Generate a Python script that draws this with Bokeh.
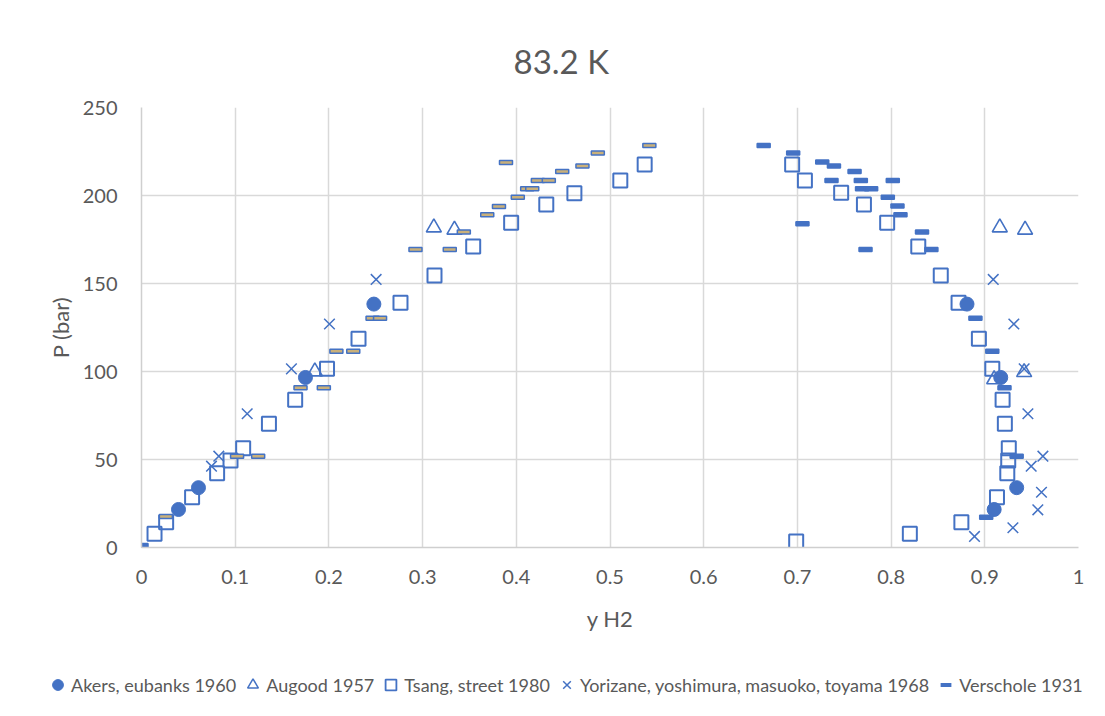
from bokeh.plotting import figure
from bokeh.layouts import column
from bokeh.models import Range1d, Legend, LegendItem, FixedTicker, CustomJSTickFormatter
from bokeh.embed import file_html
from bokeh.resources import INLINE

title_text = "83.2 K"
x_label = "y H2"
y_label = "P (bar)"
x_ticks = [0, 0.1, 0.2, 0.3, 0.4, 0.5, 0.6, 0.7, 0.8, 0.9, 1.0]
y_ticks = [0, 50, 100, 150, 200, 250]

# Akers, eubanks 1960
akers_x = [0.0395, 0.0608, 0.175, 0.248, 0.881, 0.917, 0.934, 0.910]
akers_y = [21.6, 34.0, 96.6, 138.3, 138.3, 96.6, 34.0, 21.6]

# Augood 1957
augood_x = [0.185, 0.312, 0.334, 0.910, 0.942, 0.916, 0.943]
augood_y = [100.0, 181.8, 180.5, 95.5, 99.6, 181.8, 180.5]

# Tsang, street 1980
tsang_x = [0.0139, 0.0263, 0.054, 0.0807, 0.095, 0.1085, 0.136, 0.164, 0.198, 0.2316,
           0.2764, 0.3127, 0.354, 0.3945, 0.432, 0.462, 0.511, 0.537,
           0.6987, 0.82, 0.875, 0.913, 0.924, 0.925, 0.9256, 0.9214, 0.919, 0.908,
           0.8937, 0.872, 0.853, 0.829, 0.7958, 0.771, 0.7467, 0.708, 0.6944]
tsang_y = [7.8, 14.4, 28.6, 42.2, 49.4, 56.4, 70.3, 84.0, 101.5, 118.6,
           139.0, 154.5, 171.0, 184.5, 194.9, 201.3, 208.5, 217.6,
           3.4, 7.8, 14.4, 28.6, 42.2, 49.4, 56.4, 70.3, 84.0, 101.5,
           118.6, 139.0, 154.5, 171.0, 184.5, 194.9, 201.5, 208.5, 217.6]

# Yorizane, yoshimura, masuoko, toyama 1968
yori_x = [0.0747, 0.0825, 0.1128, 0.160, 0.2006, 0.2504,
          0.889, 0.930, 0.9566, 0.9605, 0.9495, 0.962, 0.946, 0.942, 0.931, 0.909]
yori_y = [46.2, 51.9, 76.0, 101.5, 127.0, 152.3,
          6.3, 11.2, 21.4, 31.4, 46.2, 51.9, 76.0, 101.5, 127.0, 152.3]

# Verschole 1931 (liquid branch, drawn with light fill)
versl_x = [0.026, 0.102, 0.1245, 0.1697, 0.1946, 0.208, 0.226, 0.2466, 0.2546, 0.2924,
           0.329, 0.344, 0.369, 0.3815, 0.4016, 0.4116, 0.417, 0.389, 0.423, 0.4347,
           0.449, 0.4706, 0.487, 0.542]
versl_y = [17.6, 51.9, 51.9, 90.7, 90.7, 111.5, 111.5, 130.3, 130.3, 169.3,
           169.3, 179.2, 189.0, 193.8, 199.0, 203.8, 203.8, 218.75, 208.5, 208.5,
           213.6, 216.7, 224.2, 228.4]
# Verschole 1931 (vapour branch)
versv_x = [0.0, 0.664, 0.6955, 0.7265, 0.739, 0.761, 0.7364, 0.7677, 0.8018, 0.769,
           0.7787, 0.7965, 0.8068, 0.81, 0.7054, 0.7727, 0.833, 0.843, 0.89, 0.908,
           0.921, 0.934, 0.9015]
versv_y = [1.1, 228.4, 224.2, 219.0, 216.7, 213.6, 208.5, 208.5, 208.5, 203.8,
           203.8, 199.0, 194.0, 189.0, 184.0, 169.3, 179.2, 169.3, 130.3, 111.5,
           90.7, 51.9, 17.2]

labels = ["Akers, eubanks 1960", "Augood 1957", "Tsang, street 1980",
          "Yorizane, yoshimura, masuoko, toyama 1968", "Verschole 1931"]

BLUE = "#4472C4"
TAN = "#C9B07A"
TXT = "#595959"
GRID = "#D9D9D9"
FONT = "Lato"

p = figure(width=1100, height=640, output_backend="svg", toolbar_location=None,
           x_range=Range1d(0, 1), y_range=Range1d(0, 250),
           min_border_left=141, min_border_right=22, min_border_top=107, min_border_bottom=93)
p.frame_align = False

p.title.text = title_text
p.title.align = "left"
p.title.offset = 372
p.title.standoff = 53
p.title.text_font = FONT
p.title.text_font_size = "33px"
p.title.text_font_style = "normal"
p.title.text_color = TXT

p.outline_line_color = None
p.background_fill_color = "white"
p.border_fill_color = "white"

p.xaxis.ticker = FixedTicker(ticks=x_ticks)
p.yaxis.ticker = FixedTicker(ticks=y_ticks)
p.xaxis.formatter = CustomJSTickFormatter(code="return tick.toFixed(1).replace(/\\.0$/, '');")
for ax in (p.xaxis, p.yaxis):
    ax.major_tick_line_color = None
    ax.minor_tick_line_color = None
    ax.axis_line_color = "#CFCFCF"
    ax.axis_line_width = 1.5
    ax.major_label_text_font = FONT
    ax.major_label_text_font_size = "20px"
    ax.major_label_text_color = TXT
    ax.axis_label_text_font = FONT
    ax.axis_label_text_font_size = "22px"
    ax.axis_label_text_font_style = "normal"
    ax.axis_label_text_color = TXT
p.xaxis.axis_label = x_label
p.yaxis.axis_label = y_label
p.xaxis.major_label_standoff = 16
p.xaxis.axis_label_standoff = 18
p.yaxis.major_label_standoff = 18
p.yaxis.axis_label_standoff = 6

p.grid.grid_line_color = GRID
p.grid.grid_line_width = 1.5

r_tsang = p.scatter(tsang_x, tsang_y, marker="square", size=14, fill_color=None,
                    line_color=BLUE, line_width=2)
r_akers = p.scatter(akers_x, akers_y, marker="circle", size=14, fill_color=BLUE,
                    line_color=BLUE)
r_aug = p.scatter(augood_x, augood_y, marker="triangle", size=15, fill_color=None,
                  line_color=BLUE, line_width=1.6)
r_yori = p.scatter(yori_x, yori_y, marker="x", size=15, line_color=BLUE, line_width=1.5)
p.rect(versl_x, versl_y, width=13, height=4, width_units="screen", height_units="screen",
       fill_color=TAN, line_color=BLUE, line_width=1.5)
p.rect(versv_x, versv_y, width=13, height=4, width_units="screen", height_units="screen",
       fill_color=BLUE, line_color=BLUE, line_width=1.5)

# legend strip below the chart (its glyph renderers hold one off-range point each)
q = figure(width=1100, height=60, output_backend="svg", toolbar_location=None,
           x_range=Range1d(0, 1), y_range=Range1d(0, 1), x_axis_type=None, y_axis_type=None,
           min_border=0)
q.frame_align = False
q.outline_line_color = None
q.grid.visible = False
off = [-10]
l1 = q.scatter(x=off, y=off, marker="circle", size=12, fill_color=BLUE, line_color=BLUE)
l2 = q.scatter(x=off, y=off, marker="triangle", size=11, fill_color=None, line_color=BLUE, line_width=1.5)
l3 = q.scatter(x=off, y=off, marker="square", size=11, fill_color=None, line_color=BLUE, line_width=1.8)
l4 = q.scatter(x=off, y=off, marker="x", size=11, line_color=BLUE, line_width=1.5)
l5 = q.scatter(x=off, y=off, marker="dash", size=12, line_color=BLUE, line_width=4)

legend = Legend(items=[
    LegendItem(label=labels[0], renderers=[l1]),
    LegendItem(label=labels[1], renderers=[l2]),
    LegendItem(label=labels[2], renderers=[l3]),
    LegendItem(label=labels[3], renderers=[l4]),
    LegendItem(label=labels[4], renderers=[l5]),
], orientation="horizontal", location=(44, 2))
legend.label_text_font = FONT
legend.label_text_font_size = "18px"
legend.label_text_color = TXT
legend.glyph_width = 27
legend.glyph_height = 27
legend.label_standoff = 0
legend.spacing = 3
legend.padding = 0
legend.margin = 0
legend.border_line_color = None
legend.background_fill_alpha = 0
q.add_layout(legend)

layout = column(p, q, spacing=0)
open("out.html", "w").write(file_html(layout, INLINE))
